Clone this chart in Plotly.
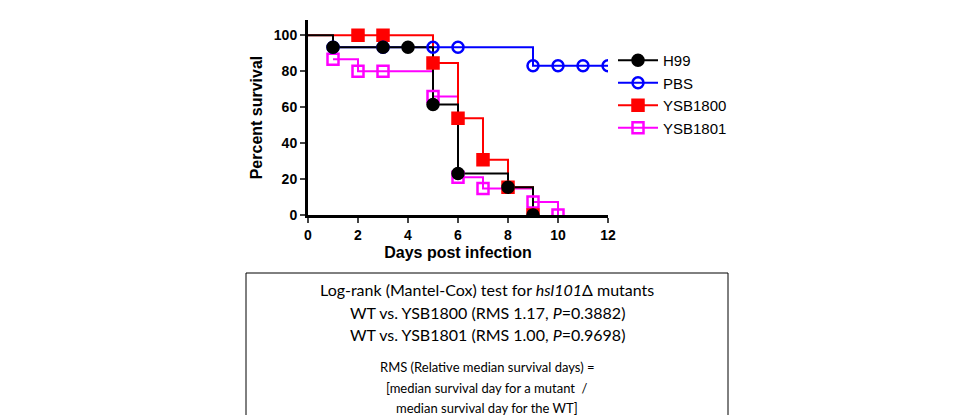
import plotly.graph_objects as go

days = list(range(0, 13, 2))
# step curves (time, percent)
h99_t = [0, 1, 5, 6, 8, 9]
h99_s = [100, 93.3, 61.5, 23.1, 15.4, 0]
h99_mt = [1, 3, 4, 5, 6, 8, 9]
h99_ms = [93.3, 93.3, 93.3, 61.5, 23.1, 15.4, 0]

pbs_t = [1, 9, 12]
pbs_s = [93.3, 83, 83]
pbs_mt = [1, 3, 5, 6, 9, 10, 11, 12]
pbs_ms = [93.3, 93.3, 93.3, 93.3, 83, 83, 83, 83]

y1800_t = [0, 5, 6, 7, 8, 9]
y1800_s = [100, 84.6, 53.8, 30.8, 15.4, 0]
y1800_mt = [2, 3, 5, 6, 7, 8, 9]
y1800_ms = [100, 100, 84.6, 53.8, 30.8, 15.4, 0]

y1801_t = [1, 2, 5, 6, 7, 9, 10]
y1801_s = [86.7, 80, 66, 21, 14.7, 7.3, 0]
y1801_mt = [1, 2, 3, 5, 6, 7, 9, 10]
y1801_ms = [86.7, 80, 80, 66, 21, 14.7, 7.3, 0]

series = [
    ("YSB1801", y1801_t, y1801_s, y1801_mt, y1801_ms, "#ff00ff", "square-open"),
    ("YSB1800", y1800_t, y1800_s, y1800_mt, y1800_ms, "#ff0000", "square"),
    ("PBS", pbs_t, pbs_s, pbs_mt, pbs_ms, "#0000ff", "circle-open"),
    ("H99", h99_t, h99_s, h99_mt, h99_ms, "#000000", "circle"),
]

fig = go.Figure()
for name, t, s, mt, ms, c, sym in series:
    fig.add_trace(go.Scatter(x=t, y=s, mode="lines", line=dict(color=c, width=2, shape="hv"),
                             showlegend=False, hoverinfo="skip"))
for name, t, s, mt, ms, c, sym in series:
    fig.add_trace(go.Scatter(x=mt, y=ms, mode="markers", showlegend=False,
                             marker=dict(color=c, symbol=sym, size=11,
                                         line=dict(color=c, width=2.5))))
for name, t, s, mt, ms, c, sym in reversed(series):
    fig.add_trace(go.Scatter(x=[None], y=[None], mode="lines+markers", name=name,
                             line=dict(color=c, width=2),
                             marker=dict(color=c, symbol=sym, size=11,
                                         line=dict(color=c, width=2.5))))

W, H = 960, 415
L, R, T, B = 300, 360, 12, 208
def px(x): return (x - L) / (W - L - R)
def py(y): return (H - B - y) / (H - T - B)

font_box = "Lato, Open Sans, sans-serif"
fig.update_layout(
    width=W, height=H, margin=dict(l=L, r=R, t=T, b=B, autoexpand=False),
    plot_bgcolor="white", paper_bgcolor="white",
    font=dict(family="Liberation Sans, Arial", color="black", size=13),
    xaxis=dict(range=[0, 12], tickvals=days, showline=True, linecolor="black", linewidth=3,
               ticks="outside", ticklen=5, tickwidth=2, showgrid=False, zeroline=False,
               automargin=False,
               tickfont=dict(size=14, family="Liberation Sans", weight="bold"),
               title=dict(text="<b>Days post infection</b>", font=dict(size=16), standoff=6)),
    yaxis=dict(range=[0, 108.5], tickvals=[0, 20, 40, 60, 80, 100], showline=True,
               linecolor="black", linewidth=3, ticks="outside", ticklen=5, tickwidth=2,
               showgrid=False, zeroline=False, automargin=False,
               tickfont=dict(size=14, family="Liberation Sans", weight="bold"),
               title=dict(text="<b>Percent survival</b>", font=dict(size=16), standoff=8)),
    legend=dict(x=px(605), y=py(36), xanchor="left", yanchor="top",
                font=dict(size=15, family="Liberation Sans"), tracegroupgap=0,
                itemwidth=40, itemsizing="trace"),
)

fig.add_shape(type="rect", xref="paper", yref="paper", x0=px(238), x1=px(720),
              y0=py(265), y1=py(410), line=dict(color="black", width=1))
lines = [
    (281, "Log-rank (Mantel-Cox) test for <i>hsl101</i>Δ mutants", 16),
    (304, "WT vs. YSB1800 (RMS 1.17, <i>P</i>=0.3882)", 16),
    (326, "WT vs. YSB1801 (RMS 1.00, <i>P</i>=0.9698)", 16),
    (359, "RMS (Relative median survival days) =", 13),
    (380, "[median survival day for a mutant  /", 13),
    (400, "median survival day for the WT]", 13),
]
for y, txt, sz in lines:
    fig.add_annotation(xref="paper", yref="paper", x=px(479), y=py(y), text=txt,
                       showarrow=False, font=dict(size=sz, family=font_box),
                       xanchor="center", yanchor="middle")

fig.write_html("out.html")
